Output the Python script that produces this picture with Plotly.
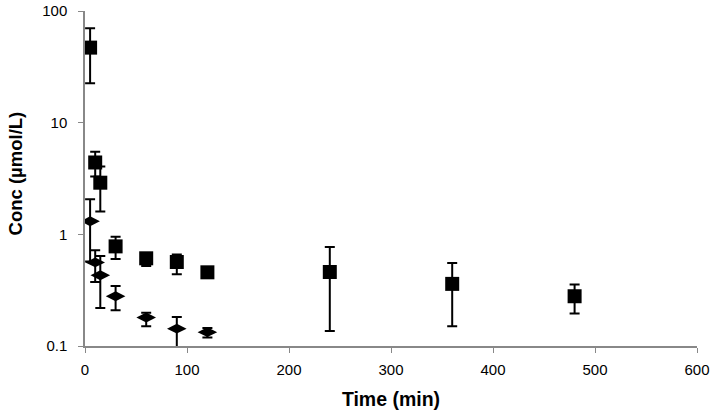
import plotly.graph_objects as go

# Square series (upper)
t_sq = [5, 10, 15, 30, 60, 90, 120, 240, 360, 480]
c_sq = [47, 4.4, 2.9, 0.78, 0.61, 0.565, 0.457, 0.46, 0.36, 0.279]
hi_sq = [70, 5.5, 4.06, 0.95, 0.68, 0.66, 0.47, 0.77, 0.553, 0.355]
lo_sq = [22.5, 3.3, 1.6, 0.6, 0.52, 0.44, 0.445, 0.136, 0.15, 0.195]

# Diamond series (lower)
t_di = [5, 10, 15, 30, 60, 90, 120]
c_di = [1.31, 0.56, 0.43, 0.279, 0.18, 0.143, 0.133]
hi_di = [2.06, 0.72, 0.64, 0.345, 0.198, 0.182, 0.145]
lo_di = [0.57, 0.374, 0.219, 0.209, 0.15, 0.095, 0.119]

x_ticks = [0, 100, 200, 300, 400, 500, 600]
y_ticks = [0.1, 1, 10, 100]
y_labels = ["0.1", "1", "10", "100"]


def err(c, hi, lo, color="black"):
    return dict(type="data", symmetric=False,
                array=[h - v for h, v in zip(hi, c)],
                arrayminus=[v - l for v, l in zip(c, lo)],
                color=color, thickness=2, width=5)


fig = go.Figure()
fig.add_trace(go.Scatter(
    x=t_sq, y=c_sq, mode="markers",
    marker=dict(symbol="square", size=14, color="black"),
    error_y=err(c_sq, hi_sq, lo_sq), showlegend=False))
fig.add_trace(go.Scatter(
    x=t_di, y=c_di, mode="markers",
    marker=dict(symbol="diamond-wide", size=14, color="black"),
    error_y=err(c_di, hi_di, lo_di), showlegend=False))

fig.update_layout(
    width=717, height=415,
    margin=dict(l=85, r=20, t=11, b=69),
    paper_bgcolor="white", plot_bgcolor="white",
    font=dict(family="Liberation Sans, Arial, sans-serif", size=15, color="black"),
    xaxis=dict(range=[0, 600], tickvals=x_ticks, showgrid=False, zeroline=False,
               showline=True, linecolor="#888888", linewidth=1.5, automargin=False,
               ticks="outside", ticklen=5, tickcolor="#888888", ticklabelstandoff=4,
               title=dict(text="<b>Time (min)</b>", font=dict(size=19.5), standoff=16)),
    yaxis=dict(type="log", range=[-1, 2], tickvals=y_ticks, ticktext=y_labels,
               showgrid=False, zeroline=False, automargin=False,
               showline=True, linecolor="#888888", linewidth=1.5,
               ticks="outside", ticklen=5, tickcolor="#888888", ticklabelstandoff=8),
    annotations=[dict(text="<b>Conc (µmol/L)</b>", textangle=-90,
                      xref="paper", yref="paper", x=-0.1144, y=0.515,
                      xanchor="center", yanchor="middle", showarrow=False,
                      font=dict(size=18.5, family="Liberation Sans Narrow, Arial Narrow, Liberation Sans, sans-serif"))],
)

fig.write_html("out.html", config={"displayModeBar": False},
               post_script="document.body.style.margin='0';document.body.style.overflow='hidden';")
